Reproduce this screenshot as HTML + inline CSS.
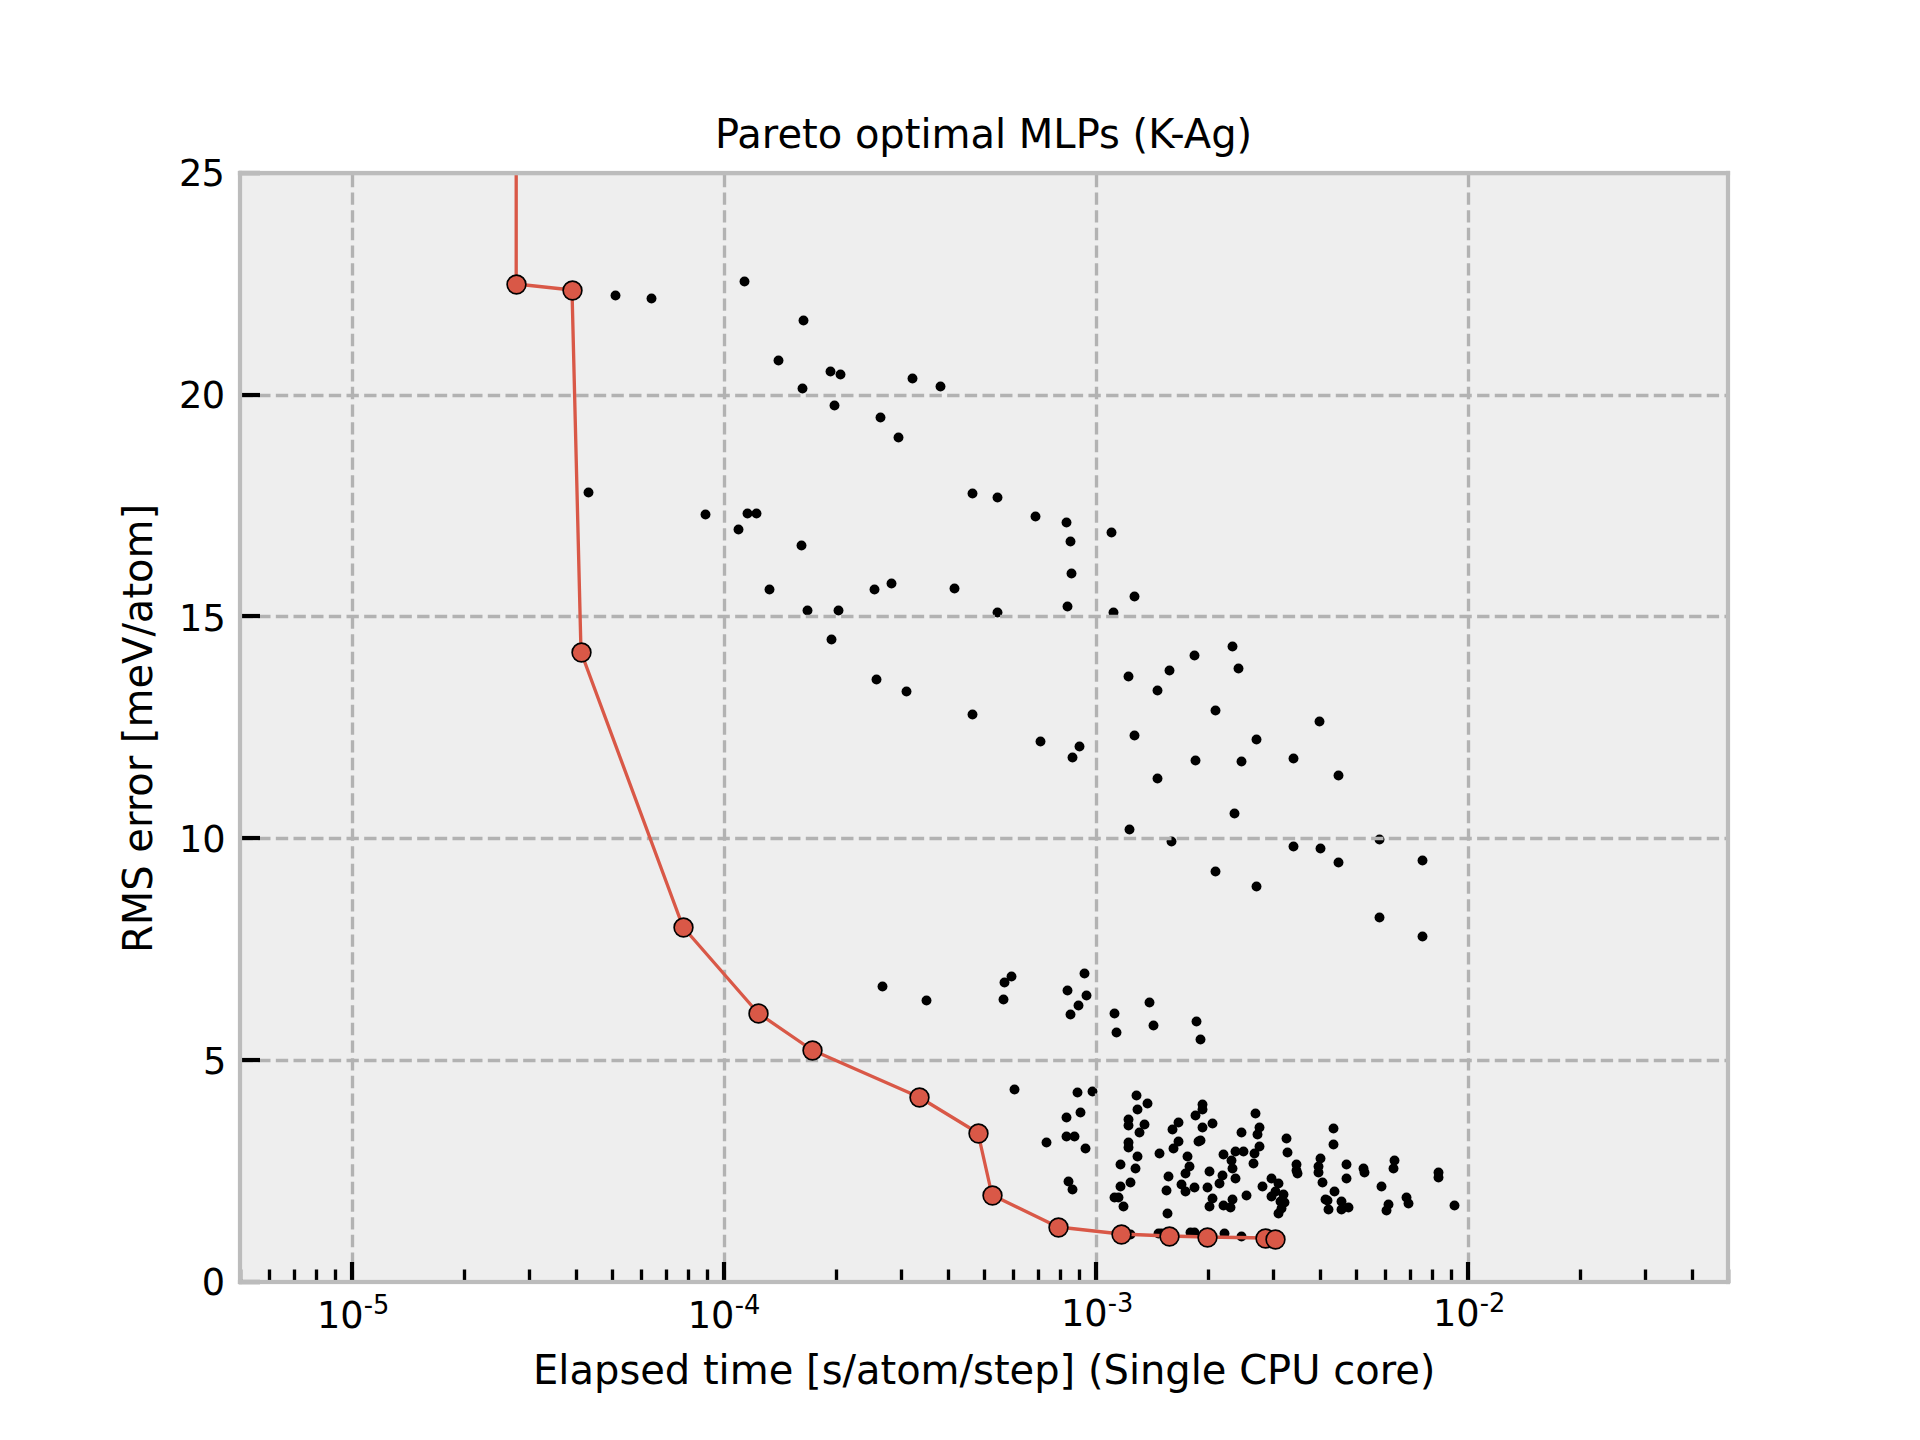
<!DOCTYPE html>
<html lang="en"><head><meta charset="utf-8"><title>Pareto optimal MLPs (K-Ag)</title>
<style>html,body{margin:0;padding:0;background:#fff;overflow:hidden;}svg{display:block;}text{font-family:'DejaVu Sans','Liberation Sans',sans-serif;fill:#000;}</style>
</head><body>
<svg width="1920" height="1440" viewBox="0 0 1920 1440">
<defs><clipPath id="ax"><rect x="240" y="172.8" width="1488" height="1108.8"/></clipPath></defs>
<rect x="0" y="0" width="1920" height="1440" fill="#ffffff"/>
<rect x="240" y="172.8" width="1488" height="1108.8" fill="#eeeeee"/>
<g fill="#000000" clip-path="url(#ax)">
<circle cx="615.5" cy="295.5" r="4.95"/>
<circle cx="651.5" cy="298.5" r="4.95"/>
<circle cx="744.5" cy="281.5" r="4.95"/>
<circle cx="803.5" cy="320.5" r="4.95"/>
<circle cx="778.5" cy="360.5" r="4.95"/>
<circle cx="830.5" cy="371.5" r="4.95"/>
<circle cx="840.5" cy="374.5" r="4.95"/>
<circle cx="912.5" cy="378.5" r="4.95"/>
<circle cx="940.5" cy="386.5" r="4.95"/>
<circle cx="802.5" cy="388.5" r="4.95"/>
<circle cx="834.5" cy="405.5" r="4.95"/>
<circle cx="880.5" cy="417.5" r="4.95"/>
<circle cx="898.5" cy="437.5" r="4.95"/>
<circle cx="588.5" cy="492.5" r="4.95"/>
<circle cx="705.5" cy="514.5" r="4.95"/>
<circle cx="747.5" cy="513.5" r="4.95"/>
<circle cx="756.5" cy="513.5" r="4.95"/>
<circle cx="972.5" cy="493.5" r="4.95"/>
<circle cx="997.5" cy="497.5" r="4.95"/>
<circle cx="1035.5" cy="516.5" r="4.95"/>
<circle cx="1066.5" cy="522.5" r="4.95"/>
<circle cx="738.5" cy="529.5" r="4.95"/>
<circle cx="801.5" cy="545.5" r="4.95"/>
<circle cx="769.5" cy="589.5" r="4.95"/>
<circle cx="874.5" cy="589.5" r="4.95"/>
<circle cx="891.5" cy="583.5" r="4.95"/>
<circle cx="954.5" cy="588.5" r="4.95"/>
<circle cx="807.5" cy="610.5" r="4.95"/>
<circle cx="838.5" cy="610.5" r="4.95"/>
<circle cx="831.5" cy="639.5" r="4.95"/>
<circle cx="876.5" cy="679.5" r="4.95"/>
<circle cx="906.5" cy="691.5" r="4.95"/>
<circle cx="1111.5" cy="532.5" r="4.95"/>
<circle cx="1070.5" cy="541.5" r="4.95"/>
<circle cx="1071.5" cy="573.5" r="4.95"/>
<circle cx="1134.5" cy="596.5" r="4.95"/>
<circle cx="1067.5" cy="606.5" r="4.95"/>
<circle cx="997.5" cy="612.5" r="4.95"/>
<circle cx="1113.5" cy="612.5" r="4.95"/>
<circle cx="1232.5" cy="646.5" r="4.95"/>
<circle cx="1194.5" cy="655.5" r="4.95"/>
<circle cx="1238.5" cy="668.5" r="4.95"/>
<circle cx="1169.5" cy="670.5" r="4.95"/>
<circle cx="1128.5" cy="676.5" r="4.95"/>
<circle cx="1157.5" cy="690.5" r="4.95"/>
<circle cx="1215.5" cy="710.5" r="4.95"/>
<circle cx="972.5" cy="714.5" r="4.95"/>
<circle cx="1319.5" cy="721.5" r="4.95"/>
<circle cx="1134.5" cy="735.5" r="4.95"/>
<circle cx="1256.5" cy="739.5" r="4.95"/>
<circle cx="1040.5" cy="741.5" r="4.95"/>
<circle cx="1079.5" cy="746.5" r="4.95"/>
<circle cx="1072.5" cy="757.5" r="4.95"/>
<circle cx="1195.5" cy="760.5" r="4.95"/>
<circle cx="1241.5" cy="761.5" r="4.95"/>
<circle cx="1293.5" cy="758.5" r="4.95"/>
<circle cx="1338.5" cy="775.5" r="4.95"/>
<circle cx="1157.5" cy="778.5" r="4.95"/>
<circle cx="1234.5" cy="813.5" r="4.95"/>
<circle cx="1129.5" cy="829.5" r="4.95"/>
<circle cx="1171.5" cy="841.5" r="4.95"/>
<circle cx="1379.5" cy="839.5" r="4.95"/>
<circle cx="1293.5" cy="846.5" r="4.95"/>
<circle cx="1320.5" cy="848.5" r="4.95"/>
<circle cx="1338.5" cy="862.5" r="4.95"/>
<circle cx="1422.5" cy="860.5" r="4.95"/>
<circle cx="1215.5" cy="871.5" r="4.95"/>
<circle cx="1256.5" cy="886.5" r="4.95"/>
<circle cx="1379.5" cy="917.5" r="4.95"/>
<circle cx="1422.5" cy="936.5" r="4.95"/>
<circle cx="1084.5" cy="973.5" r="4.95"/>
<circle cx="1067.5" cy="990.5" r="4.95"/>
<circle cx="1086.5" cy="995.5" r="4.95"/>
<circle cx="1078.5" cy="1005.5" r="4.95"/>
<circle cx="1070.5" cy="1014.5" r="4.95"/>
<circle cx="1114.5" cy="1013.5" r="4.95"/>
<circle cx="1149.5" cy="1002.5" r="4.95"/>
<circle cx="1153.5" cy="1025.5" r="4.95"/>
<circle cx="1116.5" cy="1032.5" r="4.95"/>
<circle cx="1196.5" cy="1021.5" r="4.95"/>
<circle cx="1200.5" cy="1039.5" r="4.95"/>
<circle cx="882.5" cy="986.5" r="4.95"/>
<circle cx="926.5" cy="1000.5" r="4.95"/>
<circle cx="1011.5" cy="976.5" r="4.95"/>
<circle cx="1004.5" cy="982.5" r="4.95"/>
<circle cx="1003.5" cy="999.5" r="4.95"/>
<circle cx="1014.5" cy="1089.5" r="4.95"/>
<circle cx="1077.5" cy="1092.5" r="4.95"/>
<circle cx="1092.5" cy="1091.5" r="4.95"/>
<circle cx="1080.5" cy="1112.5" r="4.95"/>
<circle cx="1066.5" cy="1117.5" r="4.95"/>
<circle cx="1066.5" cy="1136.5" r="4.95"/>
<circle cx="1074.5" cy="1136.5" r="4.95"/>
<circle cx="1046.5" cy="1142.5" r="4.95"/>
<circle cx="1085.5" cy="1148.5" r="4.95"/>
<circle cx="1068.5" cy="1181.5" r="4.95"/>
<circle cx="1072.5" cy="1189.5" r="4.95"/>
<circle cx="1136.5" cy="1095.5" r="4.95"/>
<circle cx="1147.5" cy="1103.5" r="4.95"/>
<circle cx="1137.5" cy="1109.5" r="4.95"/>
<circle cx="1128.5" cy="1119.5" r="4.95"/>
<circle cx="1128.5" cy="1125.5" r="4.95"/>
<circle cx="1144.5" cy="1124.5" r="4.95"/>
<circle cx="1139.5" cy="1132.5" r="4.95"/>
<circle cx="1128.5" cy="1142.5" r="4.95"/>
<circle cx="1128.5" cy="1147.5" r="4.95"/>
<circle cx="1137.5" cy="1156.5" r="4.95"/>
<circle cx="1120.5" cy="1164.5" r="4.95"/>
<circle cx="1135.5" cy="1168.5" r="4.95"/>
<circle cx="1130.5" cy="1182.5" r="4.95"/>
<circle cx="1120.5" cy="1186.5" r="4.95"/>
<circle cx="1114.5" cy="1197.5" r="4.95"/>
<circle cx="1118.5" cy="1197.5" r="4.95"/>
<circle cx="1123.5" cy="1206.5" r="4.95"/>
<circle cx="1159.5" cy="1153.5" r="4.95"/>
<circle cx="1178.5" cy="1122.5" r="4.95"/>
<circle cx="1172.5" cy="1129.5" r="4.95"/>
<circle cx="1178.5" cy="1141.5" r="4.95"/>
<circle cx="1173.5" cy="1148.5" r="4.95"/>
<circle cx="1187.5" cy="1156.5" r="4.95"/>
<circle cx="1189.5" cy="1166.5" r="4.95"/>
<circle cx="1185.5" cy="1173.5" r="4.95"/>
<circle cx="1168.5" cy="1176.5" r="4.95"/>
<circle cx="1181.5" cy="1184.5" r="4.95"/>
<circle cx="1185.5" cy="1191.5" r="4.95"/>
<circle cx="1166.5" cy="1190.5" r="4.95"/>
<circle cx="1194.5" cy="1187.5" r="4.95"/>
<circle cx="1167.5" cy="1213.5" r="4.95"/>
<circle cx="1202.5" cy="1104.5" r="4.95"/>
<circle cx="1202.5" cy="1109.5" r="4.95"/>
<circle cx="1195.5" cy="1115.5" r="4.95"/>
<circle cx="1212.5" cy="1123.5" r="4.95"/>
<circle cx="1202.5" cy="1127.5" r="4.95"/>
<circle cx="1200.5" cy="1140.5" r="4.95"/>
<circle cx="1198.5" cy="1141.5" r="4.95"/>
<circle cx="1209.5" cy="1171.5" r="4.95"/>
<circle cx="1207.5" cy="1187.5" r="4.95"/>
<circle cx="1212.5" cy="1198.5" r="4.95"/>
<circle cx="1209.5" cy="1206.5" r="4.95"/>
<circle cx="1222.5" cy="1175.5" r="4.95"/>
<circle cx="1219.5" cy="1183.5" r="4.95"/>
<circle cx="1223.5" cy="1154.5" r="4.95"/>
<circle cx="1231.5" cy="1160.5" r="4.95"/>
<circle cx="1232.5" cy="1168.5" r="4.95"/>
<circle cx="1235.5" cy="1151.5" r="4.95"/>
<circle cx="1235.5" cy="1178.5" r="4.95"/>
<circle cx="1232.5" cy="1199.5" r="4.95"/>
<circle cx="1223.5" cy="1205.5" r="4.95"/>
<circle cx="1230.5" cy="1207.5" r="4.95"/>
<circle cx="1241.5" cy="1132.5" r="4.95"/>
<circle cx="1243.5" cy="1151.5" r="4.95"/>
<circle cx="1246.5" cy="1195.5" r="4.95"/>
<circle cx="1255.5" cy="1113.5" r="4.95"/>
<circle cx="1259.5" cy="1127.5" r="4.95"/>
<circle cx="1257.5" cy="1134.5" r="4.95"/>
<circle cx="1259.5" cy="1146.5" r="4.95"/>
<circle cx="1254.5" cy="1153.5" r="4.95"/>
<circle cx="1253.5" cy="1163.5" r="4.95"/>
<circle cx="1262.5" cy="1186.5" r="4.95"/>
<circle cx="1271.5" cy="1178.5" r="4.95"/>
<circle cx="1278.5" cy="1183.5" r="4.95"/>
<circle cx="1275.5" cy="1191.5" r="4.95"/>
<circle cx="1271.5" cy="1196.5" r="4.95"/>
<circle cx="1283.5" cy="1194.5" r="4.95"/>
<circle cx="1280.5" cy="1201.5" r="4.95"/>
<circle cx="1284.5" cy="1202.5" r="4.95"/>
<circle cx="1281.5" cy="1208.5" r="4.95"/>
<circle cx="1278.5" cy="1213.5" r="4.95"/>
<circle cx="1286.5" cy="1138.5" r="4.95"/>
<circle cx="1287.5" cy="1152.5" r="4.95"/>
<circle cx="1296.5" cy="1164.5" r="4.95"/>
<circle cx="1296.5" cy="1170.5" r="4.95"/>
<circle cx="1297.5" cy="1173.5" r="4.95"/>
<circle cx="1320.5" cy="1158.5" r="4.95"/>
<circle cx="1318.5" cy="1166.5" r="4.95"/>
<circle cx="1318.5" cy="1172.5" r="4.95"/>
<circle cx="1322.5" cy="1182.5" r="4.95"/>
<circle cx="1333.5" cy="1128.5" r="4.95"/>
<circle cx="1333.5" cy="1144.5" r="4.95"/>
<circle cx="1334.5" cy="1191.5" r="4.95"/>
<circle cx="1325.5" cy="1199.5" r="4.95"/>
<circle cx="1327.5" cy="1200.5" r="4.95"/>
<circle cx="1328.5" cy="1209.5" r="4.95"/>
<circle cx="1130.5" cy="1234.5" r="4.95"/>
<circle cx="1158.5" cy="1233.5" r="4.95"/>
<circle cx="1161.5" cy="1233.5" r="4.95"/>
<circle cx="1190.5" cy="1232.5" r="4.95"/>
<circle cx="1194.5" cy="1232.5" r="4.95"/>
<circle cx="1224.5" cy="1233.5" r="4.95"/>
<circle cx="1241.5" cy="1236.5" r="4.95"/>
<circle cx="1346.5" cy="1164.5" r="4.95"/>
<circle cx="1346.5" cy="1178.5" r="4.95"/>
<circle cx="1341.5" cy="1201.5" r="4.95"/>
<circle cx="1348.5" cy="1207.5" r="4.95"/>
<circle cx="1341.5" cy="1209.5" r="4.95"/>
<circle cx="1363.5" cy="1168.5" r="4.95"/>
<circle cx="1364.5" cy="1172.5" r="4.95"/>
<circle cx="1381.5" cy="1186.5" r="4.95"/>
<circle cx="1394.5" cy="1160.5" r="4.95"/>
<circle cx="1393.5" cy="1168.5" r="4.95"/>
<circle cx="1388.5" cy="1204.5" r="4.95"/>
<circle cx="1386.5" cy="1210.5" r="4.95"/>
<circle cx="1406.5" cy="1197.5" r="4.95"/>
<circle cx="1408.5" cy="1203.5" r="4.95"/>
<circle cx="1438.5" cy="1172.5" r="4.95"/>
<circle cx="1438.5" cy="1177.5" r="4.95"/>
<circle cx="1454.5" cy="1205.5" r="4.95"/>
</g>
<g stroke="#b2b2b2" stroke-width="3.333" stroke-dasharray="12.333 5.333" fill="none">
<path d="M352.50 1282.50V172.80"/>
<path d="M724.50 1282.50V172.80"/>
<path d="M1096.50 1282.50V172.80"/>
<path d="M1468.50 1282.50V172.80"/>
<path d="M240.50 1060.50H1728.00"/>
<path d="M240.50 838.50H1728.00"/>
<path d="M240.50 616.50H1728.00"/>
<path d="M240.50 395.50H1728.00"/>
</g>
<g fill="#000000">
<rect x="349.92" y="1262" width="4.2" height="21"/>
<rect x="721.92" y="1262" width="4.2" height="21"/>
<rect x="1093.92" y="1262" width="4.2" height="21"/>
<rect x="1465.92" y="1262" width="4.2" height="21"/>
<rect x="239" y="1279.92" width="21" height="4.2"/>
<rect x="239" y="1057.92" width="21" height="4.2"/>
<rect x="239" y="835.92" width="21" height="4.2"/>
<rect x="239" y="613.92" width="21" height="4.2"/>
<rect x="239" y="392.92" width="21" height="4.2"/>
<rect x="239" y="170.92" width="21" height="4.2"/>
<rect x="238.83" y="1269.5" width="3.34" height="13.5"/>
<rect x="267.83" y="1269.5" width="3.34" height="13.5"/>
<rect x="292.83" y="1269.5" width="3.34" height="13.5"/>
<rect x="314.83" y="1269.5" width="3.34" height="13.5"/>
<rect x="333.83" y="1269.5" width="3.34" height="13.5"/>
<rect x="462.83" y="1269.5" width="3.34" height="13.5"/>
<rect x="527.83" y="1269.5" width="3.34" height="13.5"/>
<rect x="574.83" y="1269.5" width="3.34" height="13.5"/>
<rect x="610.83" y="1269.5" width="3.34" height="13.5"/>
<rect x="639.83" y="1269.5" width="3.34" height="13.5"/>
<rect x="664.83" y="1269.5" width="3.34" height="13.5"/>
<rect x="686.83" y="1269.5" width="3.34" height="13.5"/>
<rect x="705.83" y="1269.5" width="3.34" height="13.5"/>
<rect x="834.83" y="1269.5" width="3.34" height="13.5"/>
<rect x="899.83" y="1269.5" width="3.34" height="13.5"/>
<rect x="946.83" y="1269.5" width="3.34" height="13.5"/>
<rect x="982.83" y="1269.5" width="3.34" height="13.5"/>
<rect x="1011.83" y="1269.5" width="3.34" height="13.5"/>
<rect x="1036.83" y="1269.5" width="3.34" height="13.5"/>
<rect x="1058.83" y="1269.5" width="3.34" height="13.5"/>
<rect x="1077.83" y="1269.5" width="3.34" height="13.5"/>
<rect x="1206.83" y="1269.5" width="3.34" height="13.5"/>
<rect x="1271.83" y="1269.5" width="3.34" height="13.5"/>
<rect x="1318.83" y="1269.5" width="3.34" height="13.5"/>
<rect x="1354.83" y="1269.5" width="3.34" height="13.5"/>
<rect x="1383.83" y="1269.5" width="3.34" height="13.5"/>
<rect x="1408.83" y="1269.5" width="3.34" height="13.5"/>
<rect x="1430.83" y="1269.5" width="3.34" height="13.5"/>
<rect x="1449.83" y="1269.5" width="3.34" height="13.5"/>
<rect x="1578.83" y="1269.5" width="3.34" height="13.5"/>
<rect x="1643.83" y="1269.5" width="3.34" height="13.5"/>
<rect x="1690.83" y="1269.5" width="3.34" height="13.5"/>
<rect x="1726.83" y="1269.5" width="3.34" height="13.5"/>
</g>
<g clip-path="url(#ax)">
<polyline fill="none" stroke="#d95847" stroke-width="3.333" stroke-linejoin="round" stroke-linecap="butt" points="516.20,142.80 516.20,284.00 572.00,290.00 581.00,652.00 683.00,927.00 758.00,1013.00 812.00,1050.00 919.00,1097.00 978.00,1133.00 992.00,1195.00 1058.00,1227.00 1121.00,1234.00 1169.00,1236.00 1207.00,1237.00 1265.00,1238.00 1275.00,1239.00"/>
<g fill="#d95847" stroke="#000000" stroke-width="1.667">
<circle cx="516.5" cy="284.5" r="9.375"/>
<circle cx="572.5" cy="290.5" r="9.375"/>
<circle cx="581.5" cy="652.5" r="9.375"/>
<circle cx="683.5" cy="927.5" r="9.375"/>
<circle cx="758.5" cy="1013.5" r="9.375"/>
<circle cx="812.5" cy="1050.5" r="9.375"/>
<circle cx="919.5" cy="1097.5" r="9.375"/>
<circle cx="978.5" cy="1133.5" r="9.375"/>
<circle cx="992.5" cy="1195.5" r="9.375"/>
<circle cx="1058.5" cy="1227.5" r="9.375"/>
<circle cx="1121.5" cy="1234.5" r="9.375"/>
<circle cx="1169.5" cy="1236.5" r="9.375"/>
<circle cx="1207.5" cy="1237.5" r="9.375"/>
<circle cx="1265.5" cy="1238.5" r="9.375"/>
<circle cx="1275.5" cy="1239.5" r="9.375"/>
</g></g>
<g fill="#bcbcbc">
<rect x="237.9" y="170.9" width="4.2" height="1113.2"/>
<rect x="1725.9" y="170.9" width="4.2" height="1113.2"/>
<rect x="237.9" y="170.9" width="1492.2" height="4.4"/>
<rect x="237.9" y="1279.9" width="1492.2" height="4.2"/>
</g>
<g font-size="36.667">
<text x="201.69" y="1294.85">0</text>
<text x="202.99" y="1073.85">5</text>
<text x="178.89 202.30" y="851.85">10</text>
<text x="178.89 202.42" y="630.85">15</text>
<text x="178.92 201.79" y="407.85">20</text>
<text x="178.92 201.42" y="185.85">25</text>
<text x="316.90" y="1327.60">10<tspan font-size="25.667" dx="0.3" dy="-13.9">-5</tspan></text>
<text x="687.70" y="1327.60">10<tspan font-size="25.667" dx="0.3" dy="-13.9">-4</tspan></text>
<text x="1060.90" y="1325.70">10<tspan font-size="25.667" dx="0.3" dy="-13.9">-3</tspan></text>
<text x="1432.90" y="1325.70">10<tspan font-size="25.667" dx="0.3" dy="-13.9">-2</tspan></text>
</g>
<g font-size="40.000" text-anchor="middle">
<text x="984.3" y="1383.73">Elapsed time [s/atom/step] (Single CPU core)</text>
<text x="983.6" y="147.80">Pareto optimal MLPs (K-Ag)</text>
<text transform="translate(151.77 728.50) rotate(-90)">RMS error [meV/atom]</text>
</g>
</svg>
</body></html>
